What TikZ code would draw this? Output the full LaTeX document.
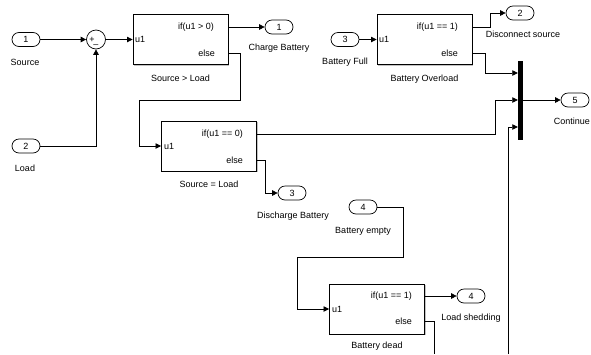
\documentclass[tikz,border=0pt]{standalone}
\usepackage{fontspec}
\setmainfont{Liberation Sans}
\usetikzlibrary{shapes.misc, arrows.meta, positioning, shadows}

\begin{document}
\begin{tikzpicture}[x=1pt, y=-1pt,
            font=\fontsize{9}{10}\selectfont,
            blk/.style={draw=black, line width=0.9pt, fill=white, minimum width=95pt, minimum height=50pt, inner sep=0pt,
              drop shadow={shadow xshift=1.2pt, shadow yshift=-1.2pt, fill=black!40, opacity=0.6}},
            port/.style={rounded rectangle, draw=black, line width=0.7pt, minimum width=28pt, minimum height=14pt, inner sep=0pt},
            lbl/.style={anchor=base, inner sep=0pt},
            ptxt/.style={inner sep=0pt},
            wire/.style={draw=black, line width=0.75pt, -{Triangle[length=5.5pt, width=5.5pt]}},
            lead/.style={draw=black, line width=0.75pt}]
            \useasboundingbox (0,0) rectangle (591,354);
            % inports and outports
            \node[port] (src)   at (26,39.5)  {1};
            \node[port] (ld)    at (26,146)   {2};
            \node[port] (chg)   at (279,27)   {1};
            \node[port] (dis)   at (292,193)  {3};
            \node[port] (full)  at (345,39.5) {3};
            \node[port] (disc)  at (520,13)   {2};
            \node[port] (cont)  at (575,100)  {5};
            \node[port] (empty) at (363,207)  {4};
            \node[port] (shed)  at (471,296)  {4};
            \node[lbl] at (25,65)   {Source};
            \node[lbl] at (25,171)  {Load};
            \node[lbl] at (279,50)  {Charge Battery};
            \node[lbl] at (293,218) {Discharge Battery};
            \node[lbl] at (345,64)  {Battery Full};
            \node[lbl] at (523,37)  {Disconnect source};
            \node[lbl, anchor=base east] at (590,124) {Continue};
            \node[lbl] at (363,233) {Battery empty};
            \node[lbl] at (471,320) {Load shedding};
            % sum
            \node[circle, draw=black, line width=0.7pt, minimum size=19pt, inner sep=0pt] (sum) at (96,39.5) {};
            \node[ptxt] (plus)  at (92,39.5) {+};
            \node[ptxt] (minus) at (96,46)   {–};
            % if blocks
            \node[blk] (b1) at (180.5,39.5) {};
            \node[blk] (b2) at (209,146)    {};
            \node[blk] (b3) at (424.5,39.5) {};
            \node[blk] (b4) at (377,309)    {};
            \node[ptxt, anchor=east] (b1if)   at (214,27)   {if(u1 > 0)};
            \node[ptxt, anchor=east] (b1else) at (215,53)   {else};
            \node[ptxt, anchor=west] (b1u)    at (135,39.5) {u1};
            \node[ptxt, anchor=east] (b2if)   at (243,134)  {if(u1 == 0)};
            \node[ptxt, anchor=east] (b2else) at (243,160)  {else};
            \node[ptxt, anchor=west] (b2u)    at (164,146)  {u1};
            \node[ptxt, anchor=east] (b3if)   at (458,27)   {if(u1 == 1)};
            \node[ptxt, anchor=east] (b3else) at (458,53)   {else};
            \node[ptxt, anchor=west] (b3u)    at (379,39.5) {u1};
            \node[ptxt, anchor=east] (b4if)   at (412,296)  {if(u1 == 1)};
            \node[ptxt, anchor=east] (b4else) at (412,321)  {else};
            \node[ptxt, anchor=west] (b4u)    at (332,309)  {u1};
            \node[lbl] at (180.5,81) {Source > Load};
            \node[lbl] at (209,187)  {Source = Load};
            \node[lbl] at (424.5,81) {Battery Overload};
            \node[lbl] at (377,348)  {Battery dead};
            % mux
            \node[fill=black, minimum width=5pt, minimum height=79pt, inner sep=0pt] (mux) at (520.5,100) {};
            \coordinate (out4) at (434,354);
            \coordinate (feed) at (508,354);
            % signals
            \draw[wire] (src.east) -- (sum.west);
            \draw[wire] (ld.east) -| (sum.south);
            \draw[wire] (sum.east) -- (b1.west);
            \draw[wire] (b1.east |- b1if) -- (chg.west);
            \draw[wire] (b1.east |- b1else) -| (240,100) -| (139,146) -- (b2.west);
            \draw[wire] (b2.east |- b2if) -| (495,100) -- (mux.west |- 0,100);
            \draw[wire] (b2.east |- b2else) -| (265,193) -- (dis.west);
            \draw[wire] (full.east) -- (b3.west);
            \draw[wire] (b3.east |- b3if) -| (490,13) -- (disc.west);
            \draw[wire] (b3.east |- b3else) -| (485,73) -- (mux.west |- 0,73);
            \draw[wire] (mux.east) -- (cont.west);
            \draw[wire] (empty.east) -| (403,257) -| (297,309) -- (b4.west);
            \draw[wire] (b4.east |- b4if) -- (shed.west);
            \draw[lead] (b4.east |- b4else) -| (out4);
            \draw[wire] (feed) |- (mux.west |- 0,127);
        \end{tikzpicture}
\end{document}
